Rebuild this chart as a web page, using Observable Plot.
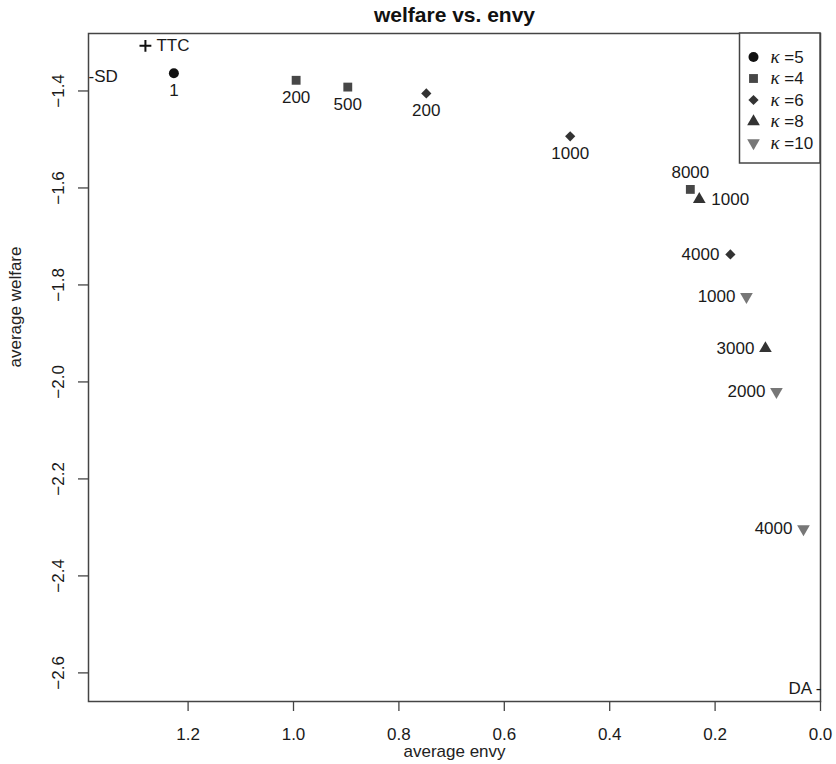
<!DOCTYPE html>
<html>
<head>
<meta charset="utf-8">
<script src="https://cdn.jsdelivr.net/npm/d3@7"></script>
<script src="https://cdn.jsdelivr.net/npm/@observablehq/plot@0.6"></script>
<style>
  body { margin: 0; background: #fff; }
  #chart { position: relative; width: 836px; height: 764px; font-family: "Liberation Sans", Arial, sans-serif; }
  #legend { position: absolute; left: 0; top: 0; pointer-events: none; }
</style>
</head>
<body>
<div id="chart"></div>
<script>
// ---------- data ----------
const seriesKappa = [5, 4, 6, 8, 10];
const seriesName = ["κ =5", "κ =4", "κ =6", "κ =8", "κ =10"];

const pointKappa   = [5, 4, 4, 4, 6, 6, 6, 8, 8, 10, 10, 10];
const pointLabel   = ["1", "200", "500", "8000", "200", "1000", "4000", "1000", "3000", "1000", "2000", "4000"];
const pointEnvy    = [1.227, 0.995, 0.897, 0.247, 0.748, 0.475, 0.171, 0.230, 0.1045, 0.1405, 0.0836, 0.0323];
const pointWelfare = [-1.3635, -1.378, -1.392, -1.603, -1.405, -1.4935, -1.737, -1.6236, -1.931, -1.824, -2.020, -2.303];

const refName    = ["SD", "TTC", "DA"];
const refEnvy    = [1.389, 1.281, 0];
const refWelfare = [-1.370, -1.307, -2.633];

const xTicks = [1.2, 1.0, 0.8, 0.6, 0.4, 0.2, 0.0];
const yTicks = [-1.4, -1.6, -1.8, -2.0, -2.2, -2.4, -2.6];
const xLimits = [1.389, 0];
const yLimits = [-2.659, -1.2815];

// ---------- styles ----------
const seriesSymbol = ["circle", "square", "diamond2", "triangle", "triangle"];
const seriesRotate = [0, 0, 0, 0, 180];
const seriesR      = [5, 5, 4.6, 4.7, 4.7];
const seriesColor  = ["#111111", "#474747", "#333333", "#333333", "#777777"];
const labelPlacement = ["below", "below", "below", "above", "below", "below", "left", "right", "left", "left", "left", "left"];

const points = pointEnvy.map((e, i) => ({
  envy: e, welfare: pointWelfare[i], kappa: pointKappa[i], label: pointLabel[i], place: labelPlacement[i]
}));
const refs = refName.map((n, i) => ({name: n, envy: refEnvy[i], welfare: refWelfare[i]}));

const placeOpts = {
  below: {dy: 17, textAnchor: "middle"},
  above: {dy: -17, textAnchor: "middle"},
  left:  {dx: -11, textAnchor: "end"},
  right: {dx: 12, textAnchor: "start"}
};

const W = 836, H = 764, mL = 88, mR = 16, mT = 33, mB = 63;
const fmt = d3.format(".1f");

const marks = [
  Plot.frame({stroke: "#444", strokeWidth: 1.5}),
  Plot.axisX({ticks: xTicks, tickSize: 10, tickPadding: 16, tickFormat: fmt, label: null, stroke: "#444", strokeWidth: 1.3}),
  Plot.axisY({ticks: yTicks, tickSize: 10, tickPadding: 15, tickRotate: -90, tickFormat: fmt, label: null, stroke: "#444", strokeWidth: 1.3}),
  Plot.text(["welfare vs. envy"], {text: d => d, frameAnchor: "top", dy: -12, lineAnchor: "bottom", fontSize: 21, fontWeight: "bold", fill: "#111"}),
  Plot.text(["average envy"], {text: d => d, frameAnchor: "bottom", dy: 55, lineAnchor: "bottom", fontSize: 17, fill: "#222"}),
  Plot.text(["average welfare"], {text: d => d, frameAnchor: "left", dx: -68, rotate: -90, lineAnchor: "bottom", fontSize: 17, fill: "#222"}),
  // series
  ...seriesKappa.map((k, j) => Plot.dot(points.filter(d => d.kappa === k), {
    x: "envy", y: "welfare", symbol: seriesSymbol[j], r: seriesR[j], fill: seriesColor[j], stroke: "none", rotate: seriesRotate[j]
  })),
  ...Object.keys(placeOpts).map(p => Plot.text(points.filter(d => d.place === p), {
    x: "envy", y: "welfare", text: "label", fontSize: 17, fill: "#1a1a1a", lineAnchor: "middle", ...placeOpts[p]
  })),
  // reference mechanisms
  Plot.dot(refs.filter(d => d.name === "TTC"), {x: "envy", y: "welfare", symbol: "plus", r: 3.9, stroke: "#111", strokeWidth: 2}),
  Plot.text(refs.filter(d => d.name === "TTC"), {x: "envy", y: "welfare", text: "name", dx: 11, textAnchor: "start", fontSize: 17, fill: "#1a1a1a"}),
  Plot.text(refs.filter(d => d.name === "SD"), {x: "envy", y: "welfare", text: d => "-SD", dx: 0, textAnchor: "start", fontSize: 17, fill: "#1a1a1a"}),
  Plot.text(refs.filter(d => d.name === "DA"), {x: "envy", y: "welfare", text: d => "DA -", dx: 1, textAnchor: "end", fontSize: 17, fill: "#1a1a1a"})
];

const chart = Plot.plot({
  width: W, height: H,
  marginLeft: mL, marginRight: mR, marginTop: mT, marginBottom: mB,
  x: {domain: xLimits},
  y: {domain: yLimits},
  style: {fontFamily: "Liberation Sans, Arial, sans-serif", fontSize: "17px", color: "#1a1a1a", background: "#fff"},
  marks
});
document.getElementById("chart").appendChild(chart);

// ---------- legend (inside the frame, top-right) ----------
const symbolType = {circle: d3.symbolCircle, square: d3.symbolSquare, diamond2: d3.symbolDiamond2, triangle: d3.symbolTriangle};
const lg = d3.select("#chart").append("svg").attr("id", "legend").attr("width", W).attr("height", H);
const boxW = 80.5, boxH = 130, rowH = 21.5;
const bx = W - mR - boxW, by = mT;
lg.append("rect").attr("x", bx).attr("y", by).attr("width", boxW).attr("height", boxH)
  .attr("fill", "#fff").attr("stroke", "#444").attr("stroke-width", 1.5);
seriesKappa.forEach((k, j) => {
  const cy = by + 24 + j * rowH;
  lg.append("path")
    .attr("d", d3.symbol(symbolType[seriesSymbol[j]], Math.PI * seriesR[j] * seriesR[j])())
    .attr("transform", `translate(${bx + 14},${cy}) rotate(${seriesRotate[j]})`)
    .attr("fill", seriesColor[j]);
  const t = lg.append("text").attr("x", bx + 31).attr("y", cy).attr("dy", "0.35em")
    .attr("font-size", 17).attr("fill", "#1a1a1a").attr("font-family", "Liberation Sans, Arial, sans-serif");
  const [kap, rest] = [seriesName[j].slice(0, 1), seriesName[j].slice(1)];
  t.append("tspan").attr("font-style", "italic").attr("font-size", 19).attr("font-family", "Liberation Serif, serif").text(kap);
  t.append("tspan").text(rest);
});
</script>
</body>
</html>
